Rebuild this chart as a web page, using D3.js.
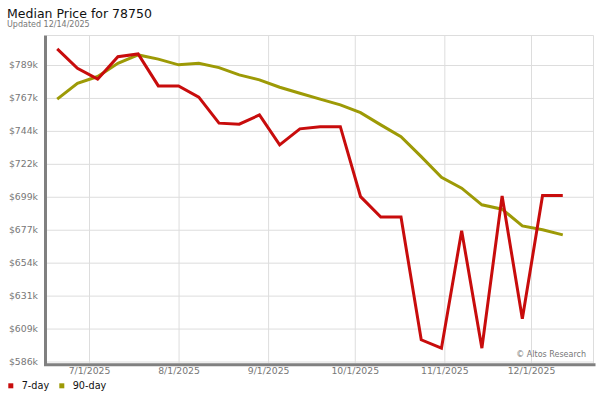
<!DOCTYPE html>
<html>
<head>
<meta charset="utf-8">
<script src="https://cdn.jsdelivr.net/npm/d3@7"></script>
<style>
  html, body { margin: 0; padding: 0; background: #fff; }
  svg { display: block; font-family: "DejaVu Sans", Verdana, sans-serif; }
</style>
</head>
<body>
<svg id="chart" width="600" height="400"></svg>
<script>
// ---- data ----
const dates = ["2025-06-20","2025-06-27","2025-07-04","2025-07-11","2025-07-18","2025-07-25",
  "2025-08-01","2025-08-08","2025-08-15","2025-08-22","2025-08-29","2025-09-05","2025-09-12",
  "2025-09-19","2025-09-26","2025-10-03","2025-10-10","2025-10-17","2025-10-24","2025-10-31",
  "2025-11-07","2025-11-14","2025-11-21","2025-11-28","2025-12-05","2025-12-12"];
const sevenDay = [800300, 787100, 779600, 795000, 796900, 775000, 775000, 767300, 749500, 748800,
  755100, 734600, 745600, 747100, 747100, 699200, 685200, 685200, 601200, 595500,
  675800, 595500, 699700, 615600, 699900, 699900];
const ninetyDay = [765900, 776800, 781400, 790500, 796200, 793300, 789400, 790500, 787500, 782500,
  779100, 774100, 770000, 765900, 762000, 756700, 748300, 740300, 726600, 712500,
  705000, 693600, 690600, 679200, 676500, 673000];
const yTickValues = [586350, 608900, 631450, 654000, 676550, 699100, 721650, 744200, 766750, 789300];
const yTickLabels = ["$586k","$609k","$631k","$654k","$677k","$699k","$722k","$744k","$767k","$789k"];
const xTickDates = ["2025-07-01","2025-08-01","2025-09-01","2025-10-01","2025-11-01","2025-12-01"];
const xTickLabels = ["7/1/2025","8/1/2025","9/1/2025","10/1/2025","11/1/2025","12/1/2025"];
const seriesNames = ["7-day","90-day"];
const seriesColors = ["#c80c0c","#9d9a06"];

// ---- layout ----
const svg = d3.select("#chart");
const plot = {left: 47, right: 593.5, top: 35.5, bottom: 363};
const parse = d3.utcParse("%Y-%m-%d");

const x = d3.scaleUtc()
  .domain([parse("2025-07-01"), parse("2025-12-01")])
  .range([89, 531]);
const y = d3.scaleLinear()
  .domain([yTickValues[0], yTickValues[yTickValues.length - 1]])
  .range([361.5, 65]);

// title
svg.append("text").attr("x", 7).attr("y", 18)
  .attr("font-size", 12.5).attr("fill", "#111").text("Median Price for 78750");
svg.append("text").attr("x", 7).attr("y", 27.3)
  .attr("font-size", 8).attr("fill", "#777").text("Updated 12/14/2025");

// frame (top & right)
svg.append("line").attr("x1", plot.left).attr("x2", plot.right)
  .attr("y1", plot.top).attr("y2", plot.top).attr("stroke", "#ddd");
svg.append("line").attr("x1", plot.right).attr("x2", plot.right)
  .attr("y1", plot.top).attr("y2", plot.bottom).attr("stroke", "#ddd");

// horizontal gridlines & y labels
const yAxis = d3.axisLeft(y).tickValues(yTickValues)
  .tickFormat((d, i) => yTickLabels[i])
  .tickSize(-(plot.right - plot.left)).tickPadding(9);
const gy = svg.append("g").attr("transform", `translate(${plot.left},0)`).call(yAxis);
gy.select(".domain").remove();
gy.selectAll(".tick line").attr("stroke", "#ddd");
gy.selectAll(".tick text").attr("fill", "#777").attr("font-size", 9.3)
  .attr("font-family", "DejaVu Sans, sans-serif");

// vertical gridlines & x labels
const xAxis = d3.axisBottom(x).tickValues(xTickDates.map(parse))
  .tickFormat((d, i) => xTickLabels[i])
  .tickSize(-(plot.bottom - plot.top)).tickPadding(6);
const gx = svg.append("g").attr("transform", `translate(0,${plot.bottom})`).call(xAxis);
gx.select(".domain").remove();
gx.selectAll(".tick line").attr("stroke", "#ddd");
gx.selectAll(".tick text").attr("fill", "#777").attr("font-size", 9.3)
  .attr("font-family", "DejaVu Sans, sans-serif").attr("dy", "0.5em");

// axis lines
svg.append("line").attr("x1", 45.5).attr("x2", 45.5)
  .attr("y1", plot.top).attr("y2", 366).attr("stroke", "#808080").attr("stroke-width", 3);
svg.append("line").attr("x1", 44).attr("x2", 595.5)
  .attr("y1", 364.8).attr("y2", 364.8).attr("stroke", "#808080").attr("stroke-width", 3);

// watermark
svg.append("text").attr("x", 586).attr("y", 356.5).attr("text-anchor", "end")
  .attr("font-size", 8).attr("fill", "#777").text("\u00A9 Altos Research");

// lines
const line = d3.line().x(d => x(d.date)).y(d => y(d.value));
[ninetyDay, sevenDay].forEach((vals, k) => {
  const idx = k === 0 ? 1 : 0;
  const data = dates.map((d, i) => ({date: parse(d), value: vals[i]}));
  svg.append("path").datum(data).attr("d", line)
    .attr("fill", "none").attr("stroke", seriesColors[idx])
    .attr("stroke-width", 3).attr("stroke-linejoin", "miter");
});

// legend
const legendX = [8.3, 59.3];
seriesNames.forEach((name, i) => {
  svg.append("rect").attr("x", legendX[i]).attr("y", 383.3).attr("width", 5).attr("height", 5)
    .attr("fill", seriesColors[i]);
  svg.append("text").attr("x", legendX[i] + 13.4).attr("y", 389.3)
    .attr("font-size", 9.7).attr("fill", "#111").text(name);
});
</script>
</body>
</html>
